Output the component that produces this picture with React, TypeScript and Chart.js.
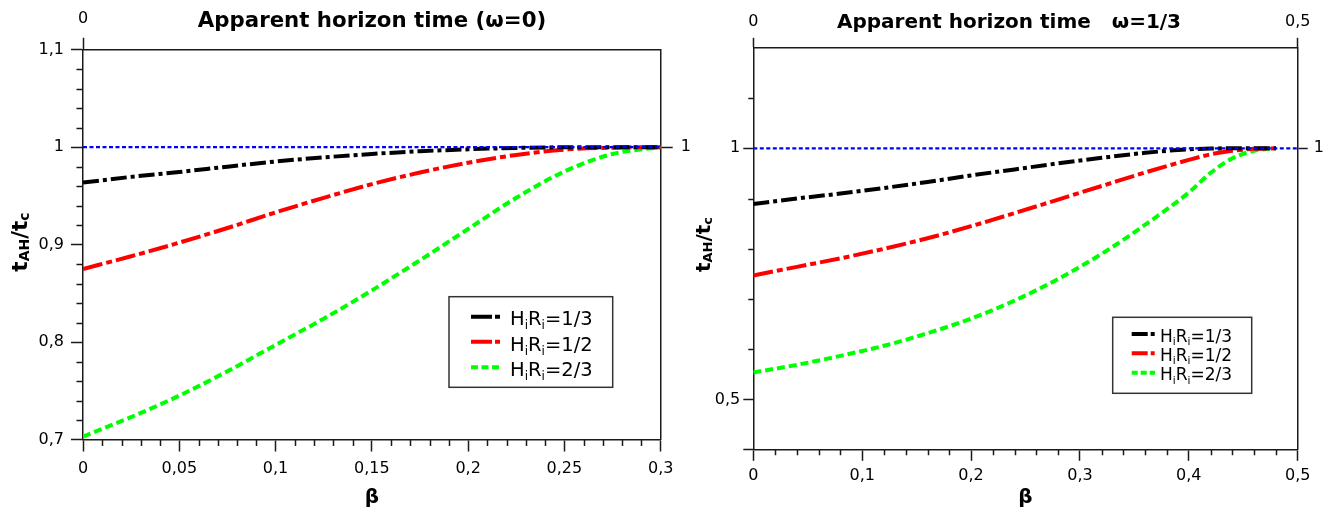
import React, { useEffect, useRef } from 'react';
import { Chart, registerables } from 'chart.js';

Chart.register(...registerables);

// ---------------- DATA ----------------
// Left panel: omega = 0
const BETA_W0 = [0, 0.025, 0.05, 0.075, 0.1, 0.125, 0.15, 0.175, 0.2, 0.225, 0.25, 0.275, 0.3];
const W0_HR13 = [0.9636, 0.9695, 0.9745, 0.98, 0.9853, 0.9895, 0.993, 0.9958, 0.9978, 0.9992, 0.9999, 1.0, 1.0];
const W0_HR12 = [0.875, 0.888, 0.902, 0.917, 0.933, 0.948, 0.962, 0.974, 0.984, 0.992, 0.9975, 0.9995, 1.0];
const W0_HR23 = [0.703, 0.723, 0.745, 0.77, 0.797, 0.824, 0.853, 0.884, 0.916, 0.948, 0.975, 0.993, 1.0];

// Right panel: omega = 1/3
const BETA_W13 = [0, 0.04, 0.08, 0.12, 0.16, 0.2, 0.24, 0.28, 0.32, 0.36, 0.4, 0.42, 0.44, 0.46, 0.48];
const W13_HR13 = [0.889, 0.9, 0.91, 0.921, 0.933, 0.946, 0.958, 0.97, 0.981, 0.991, 0.998, 0.9995, 1.0, 1.0, 1.0];
const W13_HR12 = [0.747, 0.764, 0.781, 0.8, 0.821, 0.845, 0.871, 0.898, 0.925, 0.952, 0.977, 0.988, 0.995, 0.999, 1.0];
const W13_HR23 = [0.554, 0.569, 0.587, 0.607, 0.632, 0.661, 0.697, 0.74, 0.79, 0.848, 0.912, 0.951, 0.98, 0.995, 1.0];

const SERIES_LABELS = ['1/3', '1/2', '2/3'];
const REFERENCE_VALUE = 1;

// Tick values
const X_TICKS_W0 = [0, 0.05, 0.1, 0.15, 0.2, 0.25, 0.3];
const Y_TICKS_W0 = [0.7, 0.8, 0.9, 1, 1.1];
const TOP_TICKS_W0 = [0];
const RIGHT_TICKS_W0 = [1];

const X_TICKS_W13 = [0, 0.1, 0.2, 0.3, 0.4, 0.5];
const Y_TICKS_W13 = [0.4, 0.5, 1];
const Y_LABELED_W13 = [0.5, 1];
const Y_MINOR_W13 = [0.6, 0.7, 0.8, 0.9, 1.1];
const TOP_TICKS_W13 = [0, 0.5];
const RIGHT_TICKS_W13 = [1];

const TITLE_W0 = 'Apparent horizon time (ω=0)';
const TITLE_W13 = 'Apparent horizon time   ω=1/3';

// ---------------- STYLE ----------------
const FONT = '"DejaVu Sans", "Liberation Sans", sans-serif';
const AXIS_COLOR = '#1a1a1a';
const SERIES_STYLE = [
  { color: '#000000', dash: [16, 4, 4, 4] },
  { color: '#ff0000', dash: [20, 4, 6, 4] },
  { color: '#00ff00', dash: [8, 4] },
];

const fmt = (v: number) => String(+v.toFixed(3)).replace('.', ',');

function minorValues(min: number, max: number, step: number, majors: number[]) {
  const out: number[] = [];
  const n = Math.round((max - min) / step);
  for (let i = 0; i <= n; i++) {
    const v = +(min + i * step).toFixed(4);
    if (!majors.some((m) => Math.abs(m - v) < 1e-6)) out.push(v);
  }
  return out;
}

type Seg = { t: string; sub?: boolean };

function drawSegs(ctx: CanvasRenderingContext2D, segs: Seg[], x: number, y: number, main: string, sub: string, shift: number, center: boolean) {
  let total = 0;
  for (const s of segs) {
    ctx.font = s.sub ? sub : main;
    total += ctx.measureText(s.t).width;
  }
  let cx = center ? x - total / 2 : x;
  ctx.textAlign = 'left';
  ctx.textBaseline = 'alphabetic';
  for (const s of segs) {
    ctx.font = s.sub ? sub : main;
    ctx.fillText(s.t, cx, s.sub ? y + shift : y);
    cx += ctx.measureText(s.t).width;
  }
}

const PANELS = [
  {
    key: 'w0',
    left: 0,
    width: 700,
    height: 510,
    area: { l: 83, r: 660.7, t: 49.7, b: 439.5 },
    xMin: 0, xMax: 0.3, yMin: 0.7, yMax: 1.1,
    beta: BETA_W0,
    series: [W0_HR13, W0_HR12, W0_HR23],
    xTicks: X_TICKS_W0, yTicks: Y_TICKS_W0, yLabeled: Y_TICKS_W0,
    topTicks: TOP_TICKS_W0, rightTicks: RIGHT_TICKS_W0,
    xMinor: minorValues(0, 0.3, 0.01, X_TICKS_W0),
    yMinor: minorValues(0.7, 1.1, 0.02, Y_TICKS_W0),
    major: { x: 12, y: 12, top: 12, right: 12 },
    minorLen: { x: 6.5, y: 6.5 },
    pad: { x: 8, y: 7, top: 9, right: 8 },
    betaPad: 0,
    title: TITLE_W0, titleX: 372, titleY: 27, titleFont: 'bold 21.3px ' + FONT,
    yTitle: { x: 27, y: 242, main: 'bold 21.5px ' + FONT, sub: 'bold 14px ' + FONT, shift: 2 },
    legend: {
      x: 449, y: 296.7, w: 163.7, h: 90.6,
      sx0: 471, sx1: 500, rows: [316.7, 341.7, 367.3],
      tx: 510, base: [325, 350.5, 375.5],
      main: '19.5px ' + FONT, sub: '12px ' + FONT, shift: 4,
      dashes: [[21, 3, 5, 60], [21, 3, 5, 60], [7, 3.5]],
    },
  },
  {
    key: 'w13',
    left: 690,
    width: 648,
    height: 510,
    area: { l: 63.3, r: 607.7, t: 47.8, b: 449.8 },
    xMin: 0, xMax: 0.5, yMin: 0.4, yMax: 1.2,
    beta: BETA_W13,
    series: [W13_HR13, W13_HR12, W13_HR23],
    xTicks: X_TICKS_W13, yTicks: Y_TICKS_W13, yLabeled: Y_LABELED_W13,
    topTicks: TOP_TICKS_W13, rightTicks: RIGHT_TICKS_W13,
    xMinor: minorValues(0, 0.5, 0.02, X_TICKS_W13),
    yMinor: Y_MINOR_W13,
    major: { x: 11, y: 10, top: 10, right: 10 },
    minorLen: { x: 5.5, y: 5 },
    pad: { x: 5.6, y: 3, top: 6.5, right: 6 },
    betaPad: 0,
    title: TITLE_W13, titleX: 319, titleY: 28, titleFont: 'bold 20px ' + FONT,
    yTitle: { x: 20, y: 244.5, main: 'bold 20px ' + FONT, sub: 'bold 13px ' + FONT, shift: 2 },
    legend: {
      x: 422.7, y: 317.3, w: 139, h: 76,
      sx0: 441.7, sx1: 465, rows: [334, 353.3, 372.7],
      tx: 470, base: [341.7, 360.7, 380],
      main: '17px ' + FONT, sub: '10.5px ' + FONT, shift: 3.5,
      dashes: [[16, 3, 4, 60], [16, 3, 4, 60], [6, 3]],
    },
  },
];

type Panel = typeof PANELS[number];

function makeChart(canvas: HTMLCanvasElement, p: Panel) {
  const tickFont = { family: FONT, size: 16 };
  const gridBase = { drawOnChartArea: false, drawTicks: true, tickColor: AXIS_COLOR, tickWidth: 1.5 };
  const border = { display: true, color: AXIS_COLOR, width: 1.5 };

  const datasets: any[] = [
    {
      label: 'reference',
      data: [{ x: p.xMin, y: REFERENCE_VALUE }, { x: p.xMax, y: REFERENCE_VALUE }],
      borderColor: '#0000ff',
      borderWidth: 2.2,
      borderDash: [4, 2.5],
      pointRadius: 0,
      order: 0,
    },
    ...p.series.map((vals, i) => ({
      label: 'HiRi=' + SERIES_LABELS[i],
      data: p.beta.map((b, j) => ({ x: b, y: vals[j] })),
      borderColor: SERIES_STYLE[i].color,
      borderWidth: 4,
      borderDash: SERIES_STYLE[i].dash,
      borderCapStyle: 'butt',
      pointRadius: 0,
      cubicInterpolationMode: 'monotone',
      order: i + 1,
    })),
  ];

  const decor = {
    id: 'decor_' + p.key,
    afterDraw(chart: any) {
      const ctx: CanvasRenderingContext2D = chart.ctx;
      ctx.save();
      // minor ticks
      ctx.strokeStyle = AXIS_COLOR;
      ctx.lineWidth = 1.5;
      ctx.setLineDash([]);
      const xs = chart.scales.x;
      const ys = chart.scales.y;
      ctx.beginPath();
      for (const v of p.xMinor) {
        const px = Math.round(xs.getPixelForValue(v)) + 0.5;
        ctx.moveTo(px, xs.top);
        ctx.lineTo(px, xs.top + p.minorLen.x);
      }
      for (const v of p.yMinor) {
        const py = Math.round(ys.getPixelForValue(v)) + 0.5;
        ctx.moveTo(ys.right, py);
        ctx.lineTo(ys.right - p.minorLen.y, py);
      }
      ctx.stroke();

      // main title
      ctx.fillStyle = '#000';
      ctx.font = p.titleFont;
      ctx.textAlign = 'center';
      ctx.textBaseline = 'alphabetic';
      ctx.fillText(p.title, p.titleX, p.titleY);

      // y axis title (rotated, with subscripts)
      ctx.save();
      ctx.translate(p.yTitle.x, p.yTitle.y);
      ctx.rotate(-Math.PI / 2);
      drawSegs(ctx, [{ t: 't' }, { t: 'AH', sub: true }, { t: '/t' }, { t: 'c', sub: true }], 0, 0, p.yTitle.main, p.yTitle.sub, p.yTitle.shift, true);
      ctx.restore();

      // legend
      const lg = p.legend;
      ctx.fillStyle = '#fff';
      ctx.fillRect(lg.x, lg.y, lg.w, lg.h);
      ctx.strokeStyle = '#333';
      ctx.lineWidth = 1.5;
      ctx.strokeRect(lg.x, lg.y, lg.w, lg.h);
      SERIES_LABELS.forEach((lab, i) => {
        ctx.strokeStyle = SERIES_STYLE[i].color;
        ctx.lineWidth = 4;
        ctx.lineCap = 'butt';
        ctx.setLineDash(lg.dashes[i]);
        ctx.beginPath();
        ctx.moveTo(lg.sx0, lg.rows[i]);
        ctx.lineTo(lg.sx1, lg.rows[i]);
        ctx.stroke();
        ctx.setLineDash([]);
        ctx.fillStyle = '#000';
        drawSegs(ctx, [{ t: 'H' }, { t: 'i', sub: true }, { t: 'R' }, { t: 'i', sub: true }, { t: '=' + lab }], lg.tx, lg.base[i], lg.main, lg.sub, lg.shift, false);
      });
      ctx.restore();
    },
  };

  return new Chart(canvas, {
    type: 'line',
    data: { datasets },
    plugins: [decor],
    options: {
      animation: false,
      responsive: false,
      devicePixelRatio: 1,
      layout: { padding: 0 },
      plugins: { legend: { display: false }, tooltip: { enabled: false }, title: { display: false } },
      scales: {
        x: {
          type: 'linear', position: 'bottom', min: p.xMin, max: p.xMax,
          afterBuildTicks: (s: any) => { s.ticks = p.xTicks.map((v) => ({ value: v })); },
          afterFit: (s: any) => { s.height = p.height - p.area.b; },
          ticks: { callback: (v: any) => fmt(+v), font: tickFont, color: '#000', padding: p.pad.x, maxRotation: 0, autoSkip: false },
          grid: { ...gridBase, tickLength: p.major.x },
          border,
          title: { display: true, text: 'β', color: '#000', font: { family: FONT, size: 20, weight: 'bold' }, padding: { top: 0, bottom: p.betaPad } },
        },
        y: {
          type: 'linear', position: 'left', min: p.yMin, max: p.yMax,
          afterBuildTicks: (s: any) => { s.ticks = p.yTicks.map((v) => ({ value: v })); },
          afterFit: (s: any) => { s.width = p.area.l; },
          ticks: { callback: (v: any) => (p.yLabeled.some((m) => Math.abs(m - v) < 1e-6) ? fmt(+v) : ''), font: tickFont, color: '#000', padding: p.pad.y, autoSkip: false },
          grid: { ...gridBase, tickLength: p.major.y },
          border,
        },
        x2: {
          type: 'linear', position: 'top', min: p.xMin, max: p.xMax,
          afterBuildTicks: (s: any) => { s.ticks = p.topTicks.map((v) => ({ value: v })); },
          afterFit: (s: any) => { s.height = p.area.t; },
          ticks: { callback: (v: any) => fmt(+v), font: tickFont, color: '#000', padding: p.pad.top, maxRotation: 0, autoSkip: false },
          grid: { ...gridBase, tickLength: p.major.top },
          border,
        },
        y2: {
          type: 'linear', position: 'right', min: p.yMin, max: p.yMax,
          afterBuildTicks: (s: any) => { s.ticks = p.rightTicks.map((v) => ({ value: v })); },
          afterFit: (s: any) => { s.width = p.width - p.area.r; },
          ticks: { callback: (v: any) => fmt(+v), font: tickFont, color: '#000', padding: p.pad.right, autoSkip: false },
          grid: { ...gridBase, tickLength: p.major.right },
          border,
        },
      },
    } as any,
  });
}

function Panel({ p }: { p: Panel }) {
  const ref = useRef<HTMLCanvasElement>(null);
  useEffect(() => {
    if (!ref.current) return;
    const chart = makeChart(ref.current, p);
    return () => chart.destroy();
  }, [p]);
  return (
    <canvas
      ref={ref}
      width={p.width}
      height={p.height}
      style={{ position: 'absolute', left: p.left, top: 0, width: p.width, height: p.height }}
    />
  );
}

export default function App() {
  return (
    <div style={{ position: 'fixed', left: 0, top: 0, width: 1338, height: 510, background: '#fff', overflow: 'hidden' }}>
      {PANELS.map((p) => (
        <Panel key={p.key} p={p} />
      ))}
    </div>
  );
}
